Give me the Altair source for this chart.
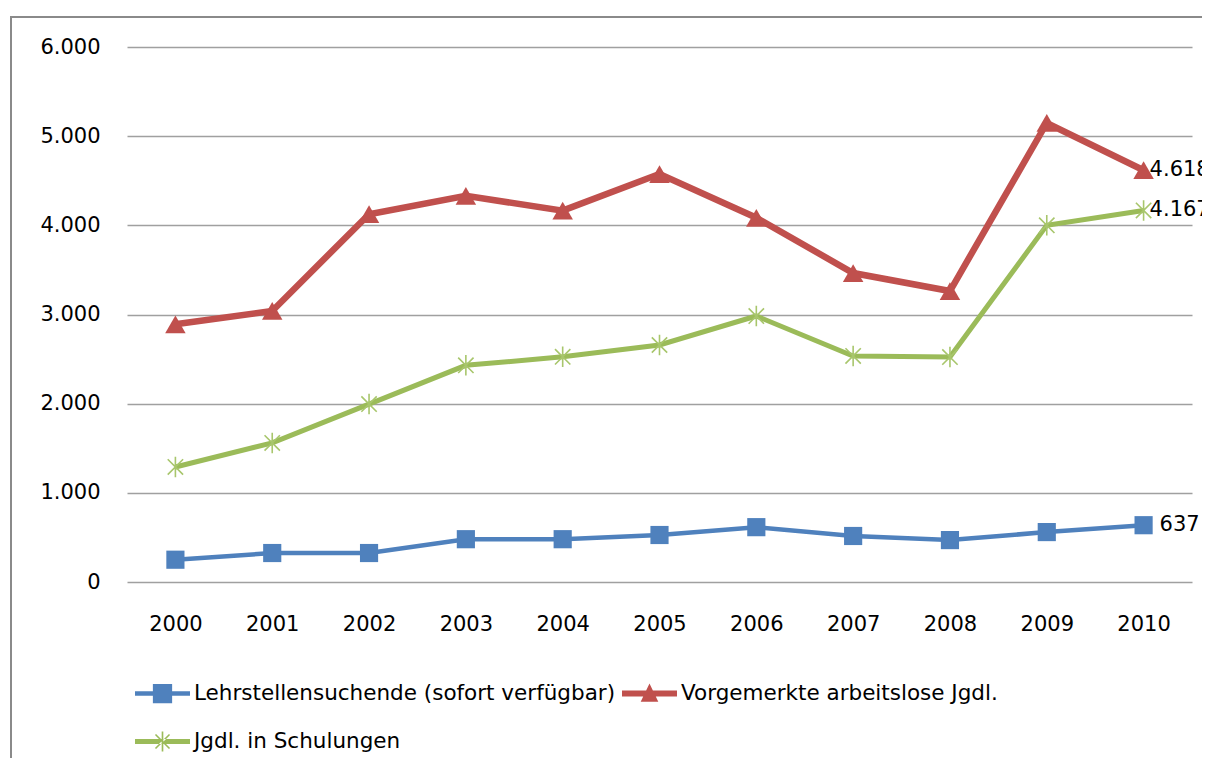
import altair as alt
import pandas as pd

years = [str(y) for y in range(2000, 2011)]
series_names = [
    "Lehrstellensuchende (sofort verfügbar)",
    "Vorgemerkte arbeitslose Jgdl.",
    "Jgdl. in Schulungen",
]
lehr = [250, 325, 325, 480, 480, 527, 615, 516, 470, 560, 637]
vorg = [2890, 3040, 4125, 4330, 4165, 4575, 4085, 3465, 3263, 5148, 4618]
schul = [1290, 1560, 1995, 2430, 2525, 2658, 2983, 2535, 2523, 4000, 4167]
colors = ["#4F81BD", "#C0504D", "#9BBB59"]
y_ticks = [0, 1000, 2000, 3000, 4000, 5000, 6000]

rows = []
for name, vals in zip(series_names, [lehr, vorg, schul]):
    for yr, v in zip(years, vals):
        rows.append({"year": yr, "series": name, "value": v})
df = pd.DataFrame(rows)

FONT = "DejaVu Sans"
FS = 21
LFS = 21.5

x_enc = alt.X(
    "year:O",
    scale=alt.Scale(type="point", padding=0.5),
    axis=alt.Axis(title=None, labelAngle=0, ticks=False, domain=False, grid=False,
                  labelPadding=31, labelFont=FONT, labelFontSize=FS, labelColor="#000"),
)
y_enc = alt.Y(
    "value:Q",
    scale=alt.Scale(domain=[0, 6000], nice=False),
    axis=alt.Axis(title=None, values=y_ticks, ticks=False, domain=False, grid=True,
                  gridColor="#A0A0A0", gridWidth=1.5, labelPadding=27,
                  labelFont=FONT, labelFontSize=FS, labelColor="#000",
                  labelExpr="replace(format(datum.value, ','), ',', '.')"),
)

base = alt.Chart(df)

def sel(name):
    return alt.datum.series == name

line_widths = [4.5, 6.5, 5]
layers = []
for name, col, lw in zip(series_names, colors, line_widths):
    layers.append(base.transform_filter(sel(name)).mark_line(color=col, strokeWidth=lw).encode(x=x_enc, y=y_enc))

layers.append(base.transform_filter(sel(series_names[0])).mark_point(
    shape="square", filled=True, color=colors[0], size=330, opacity=1).encode(x=x_enc, y=y_enc))
layers.append(base.transform_filter(sel(series_names[1])).mark_point(
    shape="triangle-up", filled=True, color=colors[1], size=420, opacity=1).encode(x=x_enc, y=y_enc))
layers.append(base.transform_filter(sel(series_names[2])).mark_point(
    shape="M0,-1V1M-0.75,-0.75L0.75,0.75M-0.75,0.75L0.75,-0.75", filled=False,
    stroke="#A8C66C", strokeWidth=1.6, size=420, opacity=1).encode(x=x_enc, y=y_enc))

# value labels for the last year
last = base.transform_filter(alt.datum.year == years[-1]).transform_calculate(
    label="replace(format(datum.value, ','), ',', '.')")
layers.append(last.transform_filter(alt.datum.series != series_names[0]).mark_text(
    align="left", baseline="middle", dx=6, font=FONT, fontSize=FS, color="#000").encode(
    x=x_enc, y=y_enc, text="label:N"))
layers.append(last.transform_filter(alt.datum.series == series_names[0]).mark_text(
    align="left", baseline="middle", dx=16, font=FONT, fontSize=FS, color="#000").encode(
    x=x_enc, y=y_enc, text="label:N"))

# legend (symbols = line + marker)
legend_paths = [
    "M-1,-0.08H1V0.08H-1Z M-0.35,-0.35H0.35V0.35H-0.35Z",
    "M-1,-0.11H1V0.11H-1Z M0,-0.36L0.32,0.3L-0.32,0.3Z",
    "M-1,-0.09H1V0.09H-1Z M-0.03,-0.36H0.03V0.36H-0.03Z "
    "M-0.235,-0.275L0.275,0.235L0.235,0.275L-0.275,-0.235Z "
    "M0.235,-0.275L-0.275,0.235L-0.235,0.275L0.275,-0.235Z",
]
leg = alt.Legend(title=None, orient="none", legendX=8, legendY=619, direction="horizontal",
                 columns=2, symbolSize=3025, symbolStrokeWidth=0, symbolOpacity=1,
                 labelFont=FONT, labelFontSize=LFS, labelColor="#000", labelLimit=800,
                 columnPadding=6, rowPadding=10, labelOffset=4, padding=0)
layers.append(base.mark_point(filled=True, opacity=0).encode(
    x=x_enc, y=y_enc,
    color=alt.Color("series:N", scale=alt.Scale(domain=series_names, range=colors), legend=leg),
    shape=alt.Shape("series:N", scale=alt.Scale(domain=series_names, range=legend_paths), legend=leg),
))

# chart frame
one = alt.Chart(pd.DataFrame({"k": [0]}))
layers.append(one.mark_rule(color="#8A8A8A", strokeWidth=2).encode(
    x=alt.value(-116), y=alt.value(-31), y2=alt.value(730)))
layers.append(one.mark_rule(color="#8A8A8A", strokeWidth=2).encode(
    x=alt.value(-117), x2=alt.value(1090), y=alt.value(-30)))

chart = alt.layer(*layers).properties(
    width=1065, height=535,
    autosize=alt.AutoSizeParams(type="none"),
    padding={"left": 119, "top": 39, "right": 10, "bottom": 176},
    background="white",
).configure_view(stroke=None)

chart.save("out.html", embed_options={"renderer": "svg", "actions": False})
